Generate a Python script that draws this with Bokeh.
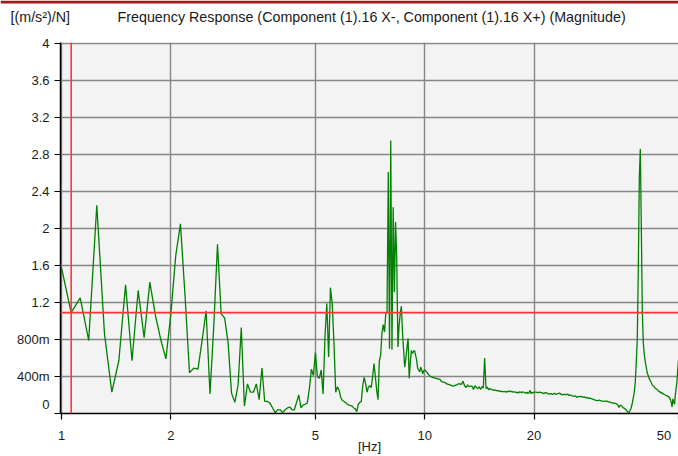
import numpy as np
from bokeh.plotting import figure
from bokeh.layouts import column
from bokeh.models import Range1d, FixedTicker, Span
from bokeh.core.properties import value
from bokeh.embed import file_html
from bokeh.resources import INLINE

# Magnitude of the frequency response [(m/s^2)/N], sampled on segments of a uniform grid
freq_a = np.arange(1.0, 5.0 + 1e-9, 0.0625)
mag_a = [
    1.57, 1.09, 1.25, 0.79, 2.25, 0.86, 0.23, 0.57,
    1.39, 0.57, 1.33, 0.82, 1.42, 1.06, 0.80, 0.59,
    1.08, 1.71, 2.05, 1.27, 0.44, 0.49, 0.48, 0.79,
    1.11, 0.21, 0.95, 1.83, 1.08, 1.03, 0.76, 0.22,
    0.12, 0.31, 0.93, 0.08, 0.32, 0.23, 0.23, 0.32,
    0.15, 0.49, 0.13, 0.13, 0.11, 0.06, 0.01, 0.04,
    0.04, 0.01, 0.04, 0.06, 0.07, 0.04, 0.04, 0.12,
    0.20, 0.06, 0.09, 0.10, 0.115, 0.27, 0.48, 0.41,
    0.66,
]
freq_b = np.arange(5.0625, 10.0 + 1e-9, 0.0625)
mag_b = [
    0.40, 0.38, 0.47, 0.21, 0.83, 1.19, 0.61, 1.36,
    1.19, 0.76, 0.23, 0.29, 0.25, 0.17, 0.14, 0.13,
    0.115, 0.10, 0.09, 0.085, 0.08, 0.06, 0.05, 0.02,
    0.10, 0.12, 0.13, 0.30, 0.39, 0.32, 0.23, 0.29,
    0.30, 0.28, 0.40, 0.54, 0.40, 0.25, 0.15, 0.57,
    0.63, 0.87, 0.96, 0.88, 1.08, 1.09, 2.61, 0.70,
    2.95, 0.69, 2.23, 1.31, 2.07, 1.66, 0.72, 0.95,
    1.08, 1.16, 0.87, 0.68, 0.50, 0.60, 0.72, 0.81,
    0.38, 0.55, 0.68, 0.65, 0.67, 0.68, 0.63, 0.58,
    0.49, 0.47, 0.45, 0.50, 0.47, 0.43, 0.46, 0.47,
]
freq_c = np.arange(10.125, 20.0 + 1e-9, 0.125)
mag_c = [
    0.45, 0.42, 0.40, 0.39, 0.385, 0.38, 0.375, 0.37,
    0.345, 0.34, 0.335, 0.32, 0.315, 0.31, 0.30, 0.295,
    0.305, 0.31, 0.32, 0.32, 0.315, 0.35, 0.30, 0.28,
    0.31, 0.29, 0.295, 0.295, 0.26, 0.30, 0.28, 0.27,
    0.29, 0.26, 0.29, 0.275, 0.60, 0.27, 0.285, 0.255,
    0.27, 0.26, 0.255, 0.25, 0.255, 0.245, 0.25, 0.24,
    0.245, 0.235, 0.24, 0.235, 0.24, 0.23, 0.24, 0.235,
    0.245, 0.235, 0.24, 0.23, 0.235, 0.23, 0.225, 0.23,
    0.22, 0.235, 0.23, 0.225, 0.235, 0.23, 0.225, 0.22,
    0.23, 0.215, 0.225, 0.25, 0.215, 0.23, 0.22, 0.23,
]
freq_d = np.arange(20.25, 50.0 + 1e-9, 0.25)
mag_d = [
    0.23, 0.225, 0.23, 0.225, 0.215, 0.225, 0.22, 0.21,
    0.215, 0.205, 0.22, 0.205, 0.215, 0.22, 0.21, 0.20,
    0.21, 0.20, 0.21, 0.195, 0.20, 0.19, 0.185, 0.19,
    0.175, 0.185, 0.18, 0.185, 0.175, 0.18, 0.17, 0.175,
    0.165, 0.165, 0.16, 0.155, 0.15, 0.145, 0.14, 0.14,
    0.145, 0.14, 0.135, 0.13, 0.135, 0.13, 0.135, 0.125,
    0.125, 0.12, 0.115, 0.115, 0.11, 0.11, 0.105, 0.095,
    0.065, 0.09, 0.085, 0.075, 0.06, 0.055, 0.045, 0.03,
    0.02, 0.01, 0.03, 0.055, 0.10, 0.16, 0.22, 0.33,
    0.55, 0.80, 1.55, 2.55, 2.86, 2.0, 1.10, 0.76,
    0.64, 0.56, 0.50, 0.44, 0.41, 0.38, 0.36, 0.34,
    0.315, 0.30, 0.295, 0.28, 0.27, 0.265, 0.255, 0.245,
    0.235, 0.235, 0.22, 0.225, 0.215, 0.21, 0.205, 0.20,
    0.195, 0.19, 0.185, 0.18, 0.17, 0.15, 0.12, 0.07,
    0.16, 0.12, 0.10, 0.20, 0.27, 0.34, 0.47, 0.58,
]

freq = np.concatenate([freq_a, freq_b, freq_c, freq_d])
mag = np.concatenate([mag_a, mag_b, mag_c, mag_d])

# Cursor sits on the second sample
cursor_index = 1
cursor_freq = freq[cursor_index]
cursor_mag = mag[cursor_index]

y_ticks = [0.0, 0.4, 0.8, 1.2, 1.6, 2.0, 2.4, 2.8, 3.2, 3.6, 4.0]
y_tick_labels = ["0", "400m", "800m", "1.2", "1.6", "2", "2.4", "2.8", "3.2", "3.6", "4"]
x_ticks = [1, 2, 5, 10, 20, 50]
x_tick_labels = ["1", "2", "5", "10", "20", "50"]

header_texts = ["[(m/s²)/N]", "Frequency Response (Component (1).16 X-, Component (1).16 X+) (Magnitude)"]
header_x = [10, 117]
x_label_text = "[Hz]"

FONT = "Liberation Sans"
TEXT_COLOR = "#1a1a1a"
GRID_COLOR = "#868686"
W = 678
HEADER_H = 34
MAIN_H = 456 - HEADER_H

# Header strip: dark red rule along the top edge and the chart captions
head = figure(
    width=W, height=HEADER_H,
    x_range=Range1d(0, W), y_range=Range1d(HEADER_H, 0),
    x_axis_location=None, y_axis_location=None,
    output_backend="svg", toolbar_location=None,
    min_border=0, outline_line_color=None,
    background_fill_color="white", border_fill_color="white",
)
head.frame_align = False
head.grid.visible = False
head.quad(left=[0], right=[W], top=[0], bottom=[3], fill_color="#9e1c1c", line_color=None)
head.text(x=header_x, y=[16, 16], text=header_texts,
          text_font=value(FONT), text_font_size=value("14.3px"),
          text_color=TEXT_COLOR, text_baseline="middle", text_align="left")

# Main chart
p = figure(
    width=W, height=MAIN_H,
    x_axis_type="log",
    x_range=Range1d(0.993, 50.0),
    y_range=Range1d(0.0, 4.01),
    output_backend="svg",
    toolbar_location=None,
    min_border_left=60, min_border_right=0,
    min_border_top=42 - HEADER_H, min_border_bottom=43,
    background_fill_color="#f3f3f3",
    border_fill_color="white",
    outline_line_color=None,
)
p.frame_align = False

p.xaxis.ticker = FixedTicker(ticks=x_ticks, minor_ticks=[])
p.yaxis.ticker = FixedTicker(ticks=y_ticks, minor_ticks=[])
x_over = {float(t): s for t, s in zip(x_ticks, x_tick_labels)}
# last label sits at the right edge: pad it so it stays inside the canvas
x_over[50.0] = x_tick_labels[-1] + "\u00a0" * 2
y_over = {float(t): s for t, s in zip(y_ticks, y_tick_labels)}
y_over[0.0] = y_tick_labels[0] + "\n"
p.xaxis.major_label_overrides = x_over
p.yaxis.major_label_overrides = y_over

for ax in (p.xaxis, p.yaxis):
    ax.axis_line_color = "black"
    ax.axis_line_width = 1.5
    ax.major_tick_line_color = "black"
    ax.major_tick_line_width = 1.2
    ax.major_tick_out = 6
    ax.major_tick_in = 0
    ax.minor_tick_line_color = None
    ax.major_label_text_font = FONT
    ax.major_label_text_font_size = "13px"
    ax.major_label_text_color = TEXT_COLOR
p.yaxis.major_label_standoff = 5
p.xaxis.major_label_standoff = 8

p.xaxis.axis_label = x_label_text
p.xaxis.axis_label_text_font = FONT
p.xaxis.axis_label_text_font_size = "13px"
p.xaxis.axis_label_text_font_style = "normal"
p.xaxis.axis_label_text_color = TEXT_COLOR
p.xaxis.axis_label_standoff = -7

p.xgrid.grid_line_color = GRID_COLOR
p.ygrid.grid_line_color = GRID_COLOR
p.xgrid.grid_line_width = 1.4
p.ygrid.grid_line_width = 1.4

p.line(freq, mag, line_color="#008000", line_width=1.3)

p.add_layout(Span(location=cursor_freq, dimension="height", line_color="#ff3535", line_width=1.6))
p.add_layout(Span(location=cursor_mag, dimension="width", line_color="#ff3535", line_width=1.6))

layout = column(head, p, spacing=0)
open("out.html", "w").write(file_html(layout, INLINE))
